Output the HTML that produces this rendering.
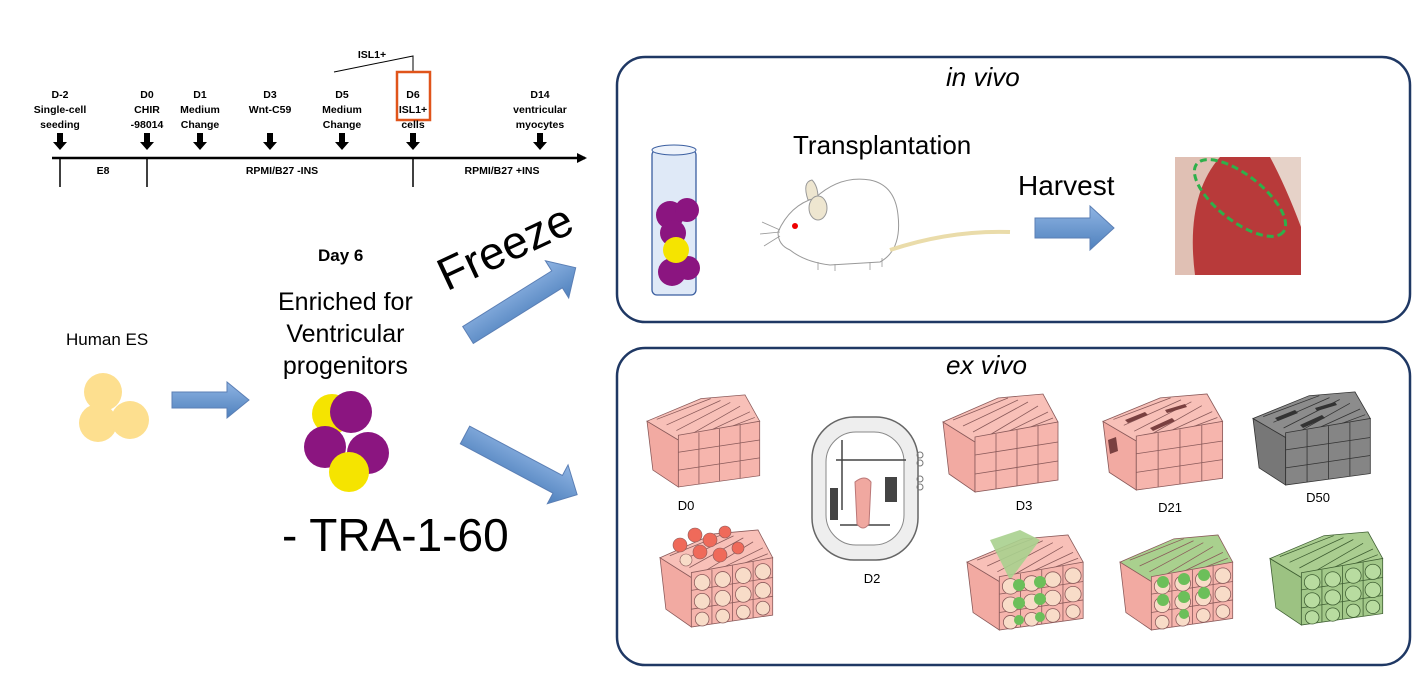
<!DOCTYPE html>
<html><head><style>
body{margin:0;width:1428px;height:697px;background:#fff;position:relative;overflow:hidden;font-family:"Liberation Sans",sans-serif}
.t{position:absolute;white-space:nowrap}
.b{font-weight:bold;font-size:10.5px;text-align:center;line-height:15px;transform:translateX(-50%)}
.c{transform:translateX(-50%)}
</style></head><body>
<svg width="1428" height="697" style="position:absolute;left:0;top:0">
<defs>
<marker id="ah" markerWidth="10" markerHeight="10" refX="8" refY="5" orient="auto" markerUnits="userSpaceOnUse"><path d="M0,0 L10,5 L0,10 z" fill="#000"/></marker>
<linearGradient id="bg" x1="0" y1="0" x2="0" y2="1"><stop offset="0" stop-color="#8fb4e3"/><stop offset="1" stop-color="#4f81bd"/></linearGradient>
<g id="blk" stroke="var(--s)" stroke-width="0.8">
<path d="M0,30 L32,50 L32,100 L6,82 Z" style="fill:var(--l)"/>
<path d="M0,30 L55,6 L100,2 L115,30 L32,50 Z" style="fill:var(--t)"/>
<path d="M10,28 L65,6 M20,34 L75,8 M30,40 L85,10 M45,44 L95,14 M60,42 L105,20 M80,38 L110,26" fill="none"/>
<path d="M32,45 L115,30 L115,88 L32,100 Z" style="fill:var(--f)"/>
<path d="M53,42 L53,97 M74,38 L74,94 M95,34 L95,91 M32,63 L115,50 M32,82 L115,69" fill="none"/>
</g>
<g id="cells" stroke="var(--s)" stroke-width="0.8" style="fill:var(--n)">
<circle cx="43" cy="55" r="8"/><circle cx="64" cy="52" r="8"/><circle cx="85" cy="48" r="8"/><circle cx="105" cy="44" r="8"/>
<circle cx="43" cy="74" r="8"/><circle cx="64" cy="71" r="8"/><circle cx="85" cy="67" r="8"/><circle cx="105" cy="63" r="8"/>
<circle cx="43" cy="92" r="7"/><circle cx="64" cy="89" r="7"/><circle cx="85" cy="85" r="7"/><circle cx="105" cy="81" r="7"/>
</g>
</defs>
<!-- timeline -->
<line x1="52" y1="158" x2="585" y2="158" stroke="#000" stroke-width="2.5" marker-end="url(#ah)"/>
<g stroke="#000" stroke-width="1.5"><line x1="60" y1="158" x2="60" y2="187"/><line x1="147" y1="158" x2="147" y2="187"/><line x1="413" y1="158" x2="413" y2="187"/></g>
<g fill="#000">
<path d="M57,133h6v9h4l-7,8l-7,-8h4z"/><path d="M144,133h6v9h4l-7,8l-7,-8h4z"/><path d="M197,133h6v9h4l-7,8l-7,-8h4z"/><path d="M267,133h6v9h4l-7,8l-7,-8h4z"/><path d="M339,133h6v9h4l-7,8l-7,-8h4z"/><path d="M410,133h6v9h4l-7,8l-7,-8h4z"/><path d="M537,133h6v9h4l-7,8l-7,-8h4z"/>
</g>
<path d="M334,72 L413,56 L413,72" fill="none" stroke="#000" stroke-width="1"/>
<rect x="397" y="72" width="33" height="48" fill="none" stroke="#e0541a" stroke-width="2.5"/>
<!-- boxes -->
<rect x="617" y="57" width="793" height="265" rx="28" fill="none" stroke="#1f3864" stroke-width="2.5"/>
<rect x="617" y="348" width="793" height="317" rx="28" fill="none" stroke="#1f3864" stroke-width="2.5"/>
<!-- left -->
<g fill="#fddf8f"><circle cx="103" cy="392" r="19"/><circle cx="98" cy="423" r="19"/><circle cx="130" cy="420" r="19"/></g>
<path d="M172,392h55v-10l22,18l-22,18v-10h-55z" fill="url(#bg)" stroke="#5b7fb5"/>
<g><circle cx="332" cy="414" r="20" fill="#f5e400"/><circle cx="351" cy="412" r="21" fill="#8b1580"/><circle cx="325" cy="447" r="21" fill="#8b1580"/><circle cx="368" cy="453" r="21" fill="#8b1580"/><circle cx="349" cy="472" r="20" fill="#f5e400"/></g>
<g transform="translate(468,335) rotate(-32)"><path d="M0,-10h105v-12l22,22l-22,22v-12h-105z" fill="url(#bg)" stroke="#5b7fb5"/></g>
<g transform="translate(465,435) rotate(28)"><path d="M0,-10h105v-12l22,22l-22,22v-12h-105z" fill="url(#bg)" stroke="#5b7fb5"/></g>
<!-- tube -->
<rect x="652" y="150" width="44" height="145" rx="5" fill="#dfe9f7" stroke="#3a5ea0" stroke-width="1.3"/>
<ellipse cx="674" cy="150" rx="22" ry="5" fill="#eef3fb" stroke="#3a5ea0"/>
<g fill="#8b1580"><circle cx="670" cy="215" r="14"/><circle cx="687" cy="210" r="12"/><circle cx="673" cy="233" r="13"/><circle cx="672" cy="272" r="14"/><circle cx="688" cy="268" r="12"/></g>
<circle cx="676" cy="250" r="13" fill="#f5e400"/>
<!-- mouse -->
<path d="M778,232 Q790,205 815,198 Q840,175 870,180 Q895,185 898,215 Q902,250 880,262 L830,265 Q805,262 790,250 Q778,245 778,232 Z" fill="#fff" stroke="#999"/>
<path d="M808,200 q-6,-18 4,-20 q6,6 6,18z" fill="#eee6d0" stroke="#999"/>
<ellipse cx="818" cy="208" rx="9" ry="12" fill="#eee6d0" stroke="#999"/>
<circle cx="795" cy="226" r="3" fill="#e00"/>
<g stroke="#999" stroke-width="0.8"><path d="M818,262v8M835,264v7M870,262v8M882,258v9"/><path d="M780,230l-18,-8M780,232l-20,2M780,236l-16,10"/></g>
<path d="M890,250 Q950,230 1010,232" fill="none" stroke="#eadcaa" stroke-width="4"/>
<path d="M1035,218h55v-12l24,22l-24,22v-12h-55z" fill="url(#bg)" stroke="#5b7fb5"/>
<!-- photo -->
<rect x="1175" y="157" width="126" height="118" fill="#b83a3a"/>
<path d="M1175,157h45q-35,40 -25,118h-20z" fill="#e0c0b4"/>
<path d="M1270,157h31v70q-15,-40 -31,-70z" fill="#e6d2c8"/>
<ellipse cx="1240" cy="198" rx="55" ry="23" transform="rotate(38 1240 198)" fill="none" stroke="#2eb04a" stroke-width="3" stroke-dasharray="7,4"/>
<!-- blocks -->
<use href="#blk" transform="translate(647,393) scale(0.98,0.94)" style="--l:#f2aaa2;--t:#f8c0b8;--f:#f6b5ad;--s:#8a5a5a"/>
<use href="#blk" transform="translate(660,528) scale(0.98,0.99)" style="--l:#f2aaa2;--t:#f8c0b8;--f:#f6b5ad;--s:#8a5a5a"/>
<use href="#cells" transform="translate(660,528) scale(0.98,0.99)" style="--n:#f8dcc8;--s:#8a5a5a"/>
<g fill="#ef6a5a" stroke="#8a5a5a" stroke-width="0.6"><circle cx="680" cy="545" r="7"/><circle cx="695" cy="535" r="7"/><circle cx="710" cy="540" r="7"/><circle cx="725" cy="532" r="6"/><circle cx="700" cy="552" r="7"/><circle cx="720" cy="555" r="7"/><circle cx="738" cy="548" r="6"/><circle cx="686" cy="560" r="6" fill="#f8dcc8"/></g>
<use href="#blk" transform="translate(943,392)" style="--l:#f2aaa2;--t:#f8c0b8;--f:#f6b5ad;--s:#8a5a5a"/>
<use href="#blk" transform="translate(1103,392) scale(1.04,0.98)" style="--l:#f2aaa2;--t:#f8c0b8;--f:#f6b5ad;--s:#8a5a5a"/>
<g fill="#7a4040"><path d="M1125,420l20,-8l3,3l-20,8z"/><path d="M1150,428l22,-10l3,3l-22,10z"/><path d="M1165,410l20,-6l2,3l-20,6z"/><path d="M1108,440l8,-3l2,14l-8,3z"/></g>
<use href="#blk" transform="translate(1253,390) scale(1.02,0.95)" style="--l:#777;--t:#8c8c8c;--f:#858585;--s:#333"/>
<g fill="#333"><path d="M1275,418l20,-8l3,3l-20,8z"/><path d="M1300,425l22,-10l3,3l-22,10z"/><path d="M1315,408l20,-6l2,3l-20,6z"/></g>
<use href="#blk" transform="translate(967,533) scale(1.01,0.97)" style="--l:#f2aaa2;--t:#f8c0b8;--f:#f6b5ad;--s:#8a5a5a"/>
<path d="M990,540 L1020,530 L1040,540 L1010,580z" fill="#a9d08e" opacity="0.9"/>
<use href="#cells" transform="translate(967,533) scale(1.01,0.97)" style="--n:#f8dcc8;--s:#8a5a5a"/>
<g fill="#6cbf5a"><circle cx="1019" cy="585" r="6"/><circle cx="1040" cy="582" r="6"/><circle cx="1019" cy="603" r="6"/><circle cx="1040" cy="599" r="6"/><circle cx="1019" cy="620" r="5"/><circle cx="1040" cy="617" r="5"/></g>
<use href="#blk" transform="translate(1120,533) scale(0.98,0.97)" style="--l:#f2aaa2;--t:#a9d08e;--f:#f6b5ad;--s:#8a5a5a"/>
<use href="#cells" transform="translate(1120,533) scale(0.98,0.97)" style="--n:#f8dcc8;--s:#8a5a5a"/>
<g fill="#6cbf5a"><circle cx="1163" cy="582" r="6"/><circle cx="1184" cy="579" r="6"/><circle cx="1204" cy="575" r="6"/><circle cx="1163" cy="600" r="6"/><circle cx="1184" cy="597" r="6"/><circle cx="1204" cy="593" r="6"/><circle cx="1184" cy="614" r="5"/></g>
<use href="#blk" transform="translate(1270,530) scale(0.98,0.95)" style="--l:#9cc282;--t:#aacd90;--f:#a3c98a;--s:#3e5e32"/>
<use href="#cells" transform="translate(1270,530) scale(0.98,0.95)" style="--n:#b8dca0;--s:#3e5e32"/>
<!-- device -->
<rect x="812" y="417" width="106" height="143" rx="42" fill="#eee" stroke="#666" stroke-width="1.5"/>
<rect x="826" y="432" width="78" height="113" rx="30" fill="#fff" stroke="#888"/>
<path d="M836,460 h70 M842,440 v70 M840,525 h50" stroke="#444" stroke-width="1.5" fill="none"/>
<rect x="830" y="488" width="8" height="32" fill="#444"/><rect x="885" y="477" width="12" height="25" fill="#444"/>
<path d="M855,482 q10,-8 16,0 l-2,42 q-6,8 -12,0z" fill="#f0a8a0" stroke="#b77"/>
<g fill="none" stroke="#777"><circle cx="920" cy="455" r="3"/><circle cx="920" cy="463" r="3"/><circle cx="920" cy="479" r="3"/><circle cx="920" cy="487" r="3"/></g>
</svg>
<div class="t b" style="left:60px;top:88px">D-2<br>Single-cell<br>seeding</div>
<div class="t b" style="left:147px;top:88px">D0<br>CHIR<br>-98014</div>
<div class="t b" style="left:200px;top:88px">D1<br>Medium<br>Change</div>
<div class="t b" style="left:270px;top:88px">D3<br>Wnt-C59</div>
<div class="t b" style="left:342px;top:88px">D5<br>Medium<br>Change</div>
<div class="t b" style="left:413px;top:88px">D6<br>ISL1+<br>cells</div>
<div class="t b" style="left:540px;top:88px">D14<br>ventricular<br>myocytes</div>
<div class="t b" style="left:372px;top:48px">ISL1+</div>
<div class="t b" style="left:103px;top:164px">E8</div>
<div class="t b" style="left:282px;top:164px">RPMI/B27 -INS</div>
<div class="t b" style="left:502px;top:164px">RPMI/B27 +INS</div>
<div class="t" style="left:66px;top:330px;font-size:17px">Human ES</div>
<div class="t" style="left:318px;top:246px;font-size:17px;font-weight:bold">Day 6</div>
<div class="t" style="left:278px;top:286px;font-size:25px;text-align:center;line-height:32px">Enriched for<br>Ventricular<br>progenitors</div>
<div class="t" style="left:282px;top:508px;font-size:46px">- TRA-1-60</div>
<div class="t" style="left:440px;top:250px;font-size:46px;transform:rotate(-25deg);transform-origin:0 50%">Freeze</div>
<div class="t" style="left:946px;top:62px;font-size:26px;font-style:italic">in vivo</div>
<div class="t" style="left:946px;top:350px;font-size:26px;font-style:italic">ex vivo</div>
<div class="t" style="left:793px;top:130px;font-size:26px">Transplantation</div>
<div class="t" style="left:1018px;top:170px;font-size:28px">Harvest</div>
<div class="t c" style="left:686px;top:498px;font-size:13px">D0</div>
<div class="t c" style="left:872px;top:571px;font-size:13px">D2</div>
<div class="t c" style="left:1024px;top:498px;font-size:13px">D3</div>
<div class="t c" style="left:1170px;top:500px;font-size:13px">D21</div>
<div class="t c" style="left:1318px;top:490px;font-size:13px">D50</div>
</body></html>
